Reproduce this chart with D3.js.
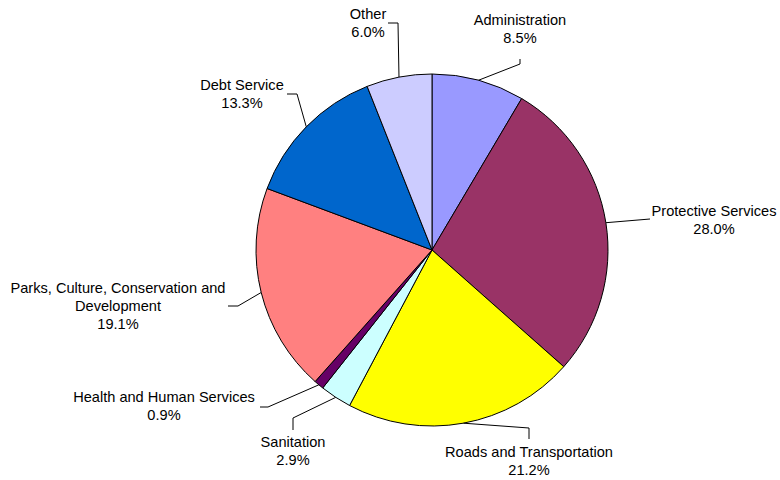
<!DOCTYPE html>
<html>
<head>
<meta charset="utf-8">
<script src="https://cdn.jsdelivr.net/npm/d3@7"></script>
<style>
  html, body { margin: 0; padding: 0; background: #fff; }
  svg { display: block; }
  text { font-family: "Liberation Sans", Arial, sans-serif; font-size: 14.6px; fill: #000; }
</style>
</head>
<body>
<svg id="chart" width="780" height="480"></svg>
<script>
// Budget shares by category, clockwise from 12 o'clock
const categories = [
  "Administration",
  "Protective Services",
  "Roads and Transportation",
  "Sanitation",
  "Health and Human Services",
  "Parks, Culture, Conservation and Development",
  "Debt Service",
  "Other"
];
const shares = [8.5, 28.0, 21.2, 2.9, 0.9, 19.1, 13.3, 6.0];
const colors = ["#9999FF", "#993366", "#FFFF00", "#CCFFFF", "#660066", "#FF8080", "#0066CC", "#CCCCFF"];

// Label text lines (long names wrap)
const labelLines = [
  ["Administration"],
  ["Protective Services"],
  ["Roads and Transportation"],
  ["Sanitation"],
  ["Health and Human Services"],
  ["Parks, Culture, Conservation and", "Development"],
  ["Debt Service"],
  ["Other"]
];

// Label placement: text centre x, first baseline y, and leader-line bends
const labelLayout = [
  { x: 520, y: 25,  bends: [[520, 64], [520, 59]] },
  { x: 714, y: 216, bends: [[650, 219]] },
  { x: 529, y: 457, bends: [[529, 428], [529, 439]] },
  { x: 293, y: 447, bends: [[293, 418], [293, 430]] },
  { x: 164, y: 402, bends: [[268, 407], [260, 407]] },
  { x: 118, y: 293, bends: [[238, 306], [228, 306]] },
  { x: 242, y: 90,  bends: [[297, 94], [287, 94]] },
  { x: 368, y: 19,  bends: [[398, 23], [388, 23]] }
];

const cx = 432, cy = 250, radius = 176, lineGap = 18;

const svg = d3.select("#chart");
const g = svg.append("g").attr("transform", `translate(${cx},${cy})`);

const data = categories.map((c, i) => ({ name: c, value: shares[i], i }));
const pie = d3.pie().value(d => d.value).sort(null);
const arcs = pie(data);
const arc = d3.arc().innerRadius(0).outerRadius(radius);

g.selectAll("path.slice")
  .data(arcs)
  .join("path")
  .attr("class", "slice")
  .attr("d", arc)
  .attr("fill", d => colors[d.data.i])
  .attr("stroke", "#000")
  .attr("stroke-width", 1)
  .attr("stroke-linejoin", "round");

// Leader lines from slice edge midpoint to label
const leaders = svg.append("g");
arcs.forEach(a => {
  const mid = (a.startAngle + a.endAngle) / 2;
  const sx = cx + radius * Math.sin(mid);
  const sy = cy - radius * Math.cos(mid);
  const pts = [[sx, sy]].concat(labelLayout[a.data.i].bends);
  leaders.append("path")
    .attr("d", d3.line()(pts))
    .attr("fill", "none")
    .attr("stroke", "#000")
    .attr("stroke-width", 1);
});

// Labels: name lines then percentage
const labels = svg.append("g");
arcs.forEach(a => {
  const i = a.data.i;
  const lay = labelLayout[i];
  const lines = labelLines[i].concat([d3.format(".1f")(shares[i]) + "%"]);
  const t = labels.append("text")
    .attr("text-anchor", "middle");
  lines.forEach((ln, k) => {
    t.append("tspan")
      .attr("x", lay.x)
      .attr("y", lay.y + k * lineGap)
      .text(ln);
  });
});
</script>
</body>
</html>
